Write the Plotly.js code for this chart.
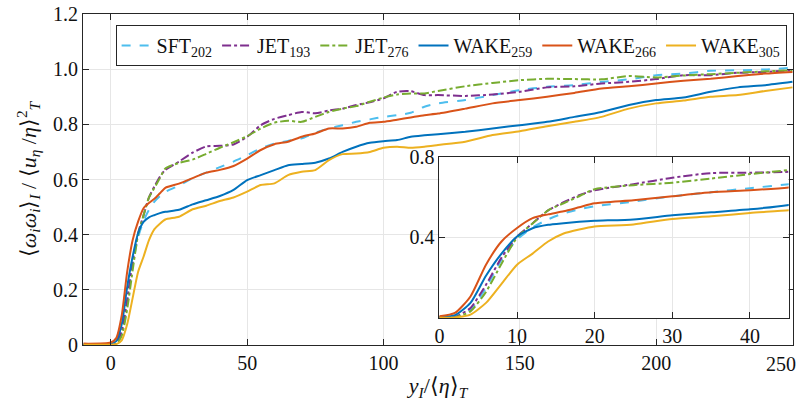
<!DOCTYPE html>
<html lang="en"><head><meta charset="utf-8">
<script src="https://cdn.plot.ly/plotly-3.0.1.min.js"></script>
<style>
#c, #c * { font-family: 'Liberation Serif', 'Times New Roman', serif; }
svg text { font-family: 'Liberation Serif', 'Times New Roman', serif !important; }
</style>
</head><body style="margin:0">
<div id="c" style="width:802px;height:408px"></div>
<script>
// y_I / <eta>_T positions
var xs = [-10, 0, 2, 4, 6, 8, 10, 12, 14, 16, 18, 20, 25, 30, 35, 40, 45, 50, 55, 60, 65, 70, 75, 80, 85, 90, 95, 100, 105, 110, 115, 120, 130, 140, 150, 160, 170, 180, 190, 200, 210, 220, 230, 240, 250];

var sft202 = [0.002, 0.002, 0.005, 0.04, 0.15, 0.29, 0.39, 0.45, 0.49, 0.52, 0.54, 0.555, 0.578, 0.605, 0.625, 0.645, 0.665, 0.688, 0.713, 0.73, 0.74, 0.749, 0.77, 0.785, 0.797, 0.809, 0.818, 0.827, 0.833, 0.842, 0.864, 0.876, 0.888, 0.906, 0.924, 0.936, 0.942, 0.954, 0.963, 0.978, 0.984, 0.994, 0.996, 0.999, 1.005];
var jet193 = [0.0, 0.001, 0.005, 0.05, 0.165, 0.30, 0.405, 0.47, 0.535, 0.575, 0.61, 0.635, 0.665, 0.697, 0.72, 0.722, 0.727, 0.755, 0.797, 0.82, 0.833, 0.845, 0.84, 0.85, 0.857, 0.87, 0.88, 0.894, 0.918, 0.92, 0.906, 0.906, 0.903, 0.908, 0.918, 0.934, 0.938, 0.948, 0.954, 0.964, 0.978, 0.978, 0.987, 0.99, 0.996];
var jet276 = [0.0, 0.0, 0.003, 0.033, 0.13, 0.27, 0.40, 0.47, 0.535, 0.57, 0.605, 0.64, 0.66, 0.672, 0.693, 0.715, 0.735, 0.757, 0.785, 0.806, 0.813, 0.809, 0.827, 0.845, 0.857, 0.866, 0.882, 0.897, 0.908, 0.912, 0.912, 0.921, 0.938, 0.95, 0.96, 0.965, 0.964, 0.963, 0.975, 0.97, 0.977, 0.982, 0.987, 0.992, 0.996];
var wake259 = [0.003, 0.005, 0.014, 0.075, 0.21, 0.32, 0.405, 0.446, 0.463, 0.471, 0.478, 0.483, 0.49, 0.51, 0.525, 0.54, 0.562, 0.598, 0.616, 0.634, 0.652, 0.656, 0.661, 0.676, 0.70, 0.719, 0.733, 0.739, 0.743, 0.755, 0.76, 0.764, 0.773, 0.785, 0.797, 0.809, 0.827, 0.845, 0.87, 0.888, 0.897, 0.918, 0.934, 0.942, 0.954];
var wake266 = [0.005, 0.009, 0.025, 0.107, 0.265, 0.38, 0.447, 0.496, 0.515, 0.53, 0.55, 0.57, 0.585, 0.605, 0.625, 0.635, 0.649, 0.676, 0.707, 0.728, 0.737, 0.755, 0.767, 0.785, 0.785, 0.791, 0.806, 0.809, 0.817, 0.825, 0.833, 0.839, 0.857, 0.876, 0.888, 0.90, 0.914, 0.93, 0.938, 0.948, 0.958, 0.965, 0.975, 0.984, 0.99];
var wake305 = [0.001, 0.001, 0.003, 0.017, 0.075, 0.17, 0.265, 0.32, 0.38, 0.42, 0.44, 0.455, 0.465, 0.492, 0.505, 0.522, 0.535, 0.556, 0.58, 0.586, 0.616, 0.628, 0.634, 0.67, 0.692, 0.694, 0.70, 0.715, 0.719, 0.715, 0.719, 0.725, 0.737, 0.761, 0.775, 0.793, 0.809, 0.827, 0.857, 0.876, 0.886, 0.90, 0.906, 0.921, 0.934];

var seriesNames = ['SFT<sub>202</sub>', 'JET<sub>193</sub>', 'JET<sub>276</sub>', 'WAKE<sub>259</sub>', 'WAKE<sub>266</sub>', 'WAKE<sub>305</sub>'];
var seriesData = [sft202, jet193, jet276, wake259, wake266, wake305];
var seriesColors = ['#4DBEEE', '#7E2F8E', '#77AC30', '#0072BD', '#D95319', '#EDB120'];
var seriesDash = ['dash', 'dashdot', 'dashdot', 'solid', 'solid', 'solid'];

var mainTickVals = [0, 0.2, 0.4, 0.6, 0.8, 1.0, 1.2];
var mainTickText = ['0', '0.2', '0.4', '0.6', '0.8', '1.0', '1.2'];
var mainXTicks = [0, 50, 100, 150, 200, 250];
var mainXTickText = ['0', '50', '100', '150', '200', ''];
var lastXLabel = '250';
var insetXTicks = [0, 10, 20, 30, 40];
var insetYTickVals = [0, 0.4, 0.8];
var insetYTickText = ['', '0.4', '0.8'];

var LA = '\u27e8', RA = '\u27e9', ETA = '\u03b7', OMEGA = '\u03c9';
var xTitle = '<i>y</i><sub><i>I</i></sub>/' + LA + '<i>' + ETA + '</i>' + RA + '<sub><i>T</i></sub>';
var yTitle = LA + '<i>' + OMEGA + '</i><sub><i>i</i></sub><i>' + OMEGA + '</i><sub><i>i</i></sub>' + RA + '<sub><i>I</i></sub> / ' +
             LA + '<i>u</i><sub><i>' + ETA + '</i></sub> /<i>' + ETA + '</i>' + RA + '<sup>2</sup><sub><i>T</i></sub>';

(function () {
  var SERIF = 'Liberation Serif';
  var traces = [];
  var k;
  for (k = 0; k < seriesData.length; k++) {
    traces.push({
      x: xs, y: seriesData[k], type: 'scatter', mode: 'lines', name: seriesNames[k],
      line: {color: seriesColors[k], width: 2, dash: seriesDash[k], shape: 'spline', smoothing: 0.6},
      xaxis: 'x', yaxis: 'y'
    });
  }
  for (k = 0; k < seriesData.length; k++) {
    traces.push({
      x: xs, y: seriesData[k], type: 'scatter', mode: 'lines', name: seriesNames[k], showlegend: false,
      line: {color: seriesColors[k], width: 2, dash: seriesDash[k], shape: 'spline', smoothing: 0.6},
      xaxis: 'x2', yaxis: 'y2'
    });
  }

  function ax(extra) {
    var a = {
      showline: true, linecolor: '#262626', linewidth: 1, mirror: 'ticks',
      ticks: 'inside', ticklen: 6, tickcolor: '#262626', tickwidth: 1,
      showgrid: true, gridcolor: '#e6e6e6', gridwidth: 1, zeroline: false,
      tickfont: {family: SERIF, size: 20, color: '#111'}
    };
    for (var key in extra) a[key] = extra[key];
    return a;
  }

  Plotly.newPlot('c', traces, {
    width: 802, height: 408,
    margin: {l: 83, r: 9, t: 14, b: 63},
    paper_bgcolor: 'white', plot_bgcolor: 'white',
    font: {family: SERIF, size: 20, color: '#111'},
    showlegend: true,
    legend: {
      orientation: 'h', x: 0.991, xanchor: 'right', y: 0.967, yanchor: 'top',
      bgcolor: 'white', bordercolor: '#262626', borderwidth: 1,
      font: {family: SERIF, size: 20, color: '#111'}
    },
    annotations: [{
      text: lastXLabel, x: 250, xref: 'x', y: 0, yref: 'paper', xanchor: 'right', yanchor: 'top',
      xshift: 6, yshift: -6, showarrow: false, font: {family: SERIF, size: 20, color: '#111'}
    }],
    xaxis: ax({
      domain: [0, 1], range: [-10.2, 250.2], tickvals: mainXTicks, ticktext: mainXTickText,
      title: {text: xTitle, font: {family: SERIF, size: 22, color: '#111'}, standoff: 4}
    }),
    yaxis: ax({
      domain: [0, 1], range: [0, 1.2], tickvals: mainTickVals, ticktext: mainTickText,
      title: {text: yTitle, font: {family: SERIF, size: 22, color: '#111'}, standoff: 10}
    }),
    xaxis2: ax({domain: [0.502, 0.994], anchor: 'y2', range: [0, 45], tickvals: insetXTicks}),
    yaxis2: ax({domain: [0.0816, 0.568], anchor: 'x2', range: [0, 0.8], tickvals: insetYTickVals, ticktext: insetYTickText})
  }, {displayModeBar: false});
})();
</script></body></html>
